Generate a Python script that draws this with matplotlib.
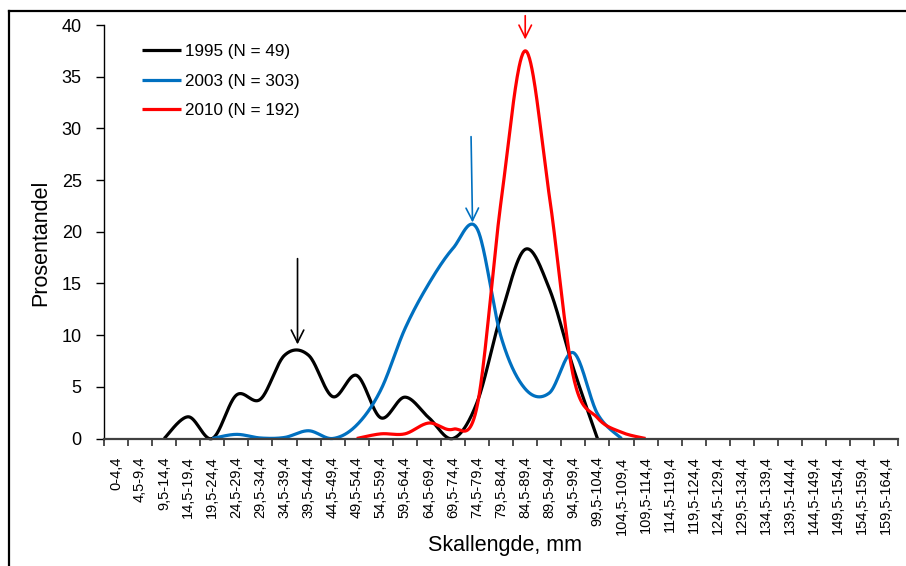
import numpy as np
import matplotlib
matplotlib.use('Agg')
import matplotlib.pyplot as plt
from matplotlib.lines import Line2D

plt.rcParams['font.family'] = ['Liberation Sans', 'DejaVu Sans']

nan = np.nan

categories = ['0-4,4', '4,5-9,4', '9,5-14,4', '14,5-19,4', '19,5-24,4', '24,5-29,4',
              '29,5-34,4', '34,5-39,4', '39,5-44,4', '44,5-49,4', '49,5-54,4', '54,5-59,4',
              '59,5-64,4', '64,5-69,4', '69,5-74,4', '74,5-79,4', '79,5-84,4', '84,5-89,4',
              '89,5-94,4', '94,5-99,4', '99,5-104,4', '104,5-109,4', '109,5-114,4',
              '114,5-119,4', '119,5-124,4', '124,5-129,4', '129,5-134,4', '134,5-139,4',
              '139,5-144,4', '144,5-149,4', '149,5-154,4', '154,5-159,4', '159,5-164,4']

y1995 = [nan, nan, 0, 2.1, 0, 4.2, 3.8, 8.05, 8.05, 4.05, 6.1, 2.0, 4.0, 2.0, 0, 3.5,
         12.0, 18.3, 14.5, 6.8, 0] + [nan] * 12
y2003 = [nan, nan, nan, nan, 0, 0.4, 0.05, 0.1, 0.75, 0.0, 1.3, 4.7, 10.6, 15.0, 18.4,
         20.3, 9.8, 4.8, 4.4, 8.3, 2.4, 0] + [nan] * 11
y2010 = [nan] * 10 + [0, 0.45, 0.45, 1.5, 0.9, 3.1, 23.0, 37.5, 23.5, 6.0, 2.0, 0.6, 0] + [nan] * 10

series_labels = ['1995 (N = 49)', '2003 (N = 303)', '2010 (N = 192)']
series_colors = ['#000000', '#0070C0', '#FF0000']

# arrows: (x start, x end, y start, y end, colour)
arrows = [(7.54, 7.54, 17.4, 9.1, '#000000'),
          (14.75, 14.81, 29.2, 20.9, '#0070C0'),
          (17.0, 17.0, 40.9, 38.6, '#FF0000')]


def smooth(vals, n=40):
    v = np.asarray(vals, dtype=float)
    idx = np.where(~np.isnan(v))[0]
    pts = np.column_stack([idx.astype(float), v[idx]])
    xs, ys = [], []
    m = len(pts)
    t = np.linspace(0, 1, n)
    for k in range(m - 1):
        p0 = pts[k - 1] if k > 0 else pts[k]
        p1 = pts[k]
        p2 = pts[k + 1]
        p3 = pts[k + 2] if k + 2 < m else pts[k + 1]
        c1 = p1 + (p2 - p0) / 6.0
        c2 = p2 - (p3 - p1) / 6.0
        b = ((1 - t) ** 3)[:, None] * p1 + (3 * (1 - t) ** 2 * t)[:, None] * c1 + \
            (3 * (1 - t) * t ** 2)[:, None] * c2 + (t ** 3)[:, None] * p2
        if k > 0:
            b = b[1:]
        xs.append(b[:, 0])
        ys.append(b[:, 1])
    return np.concatenate(xs), np.concatenate(ys)


W, H = 906, 566
fig = plt.figure(figsize=(W / 100, H / 100), dpi=100)
ax = fig.add_axes([104 / W, (H - 438.5) / H, (898.3 - 104) / W, (438.5 - 25) / H])

for vals, lab, col in zip([y1995, y2003, y2010], series_labels, series_colors):
    sx, sy = smooth(vals)
    ax.plot(sx, sy, color=col, lw=2.3, label=lab, solid_capstyle='butt', clip_on=False)

for x0, x1, ya, yb, col in arrows:
    ax.annotate('', xy=(x1, yb), xytext=(x0, ya), annotation_clip=False,
                arrowprops=dict(arrowstyle='->,head_length=0.9,head_width=0.45',
                                color=col, lw=1.2, shrinkA=0, shrinkB=0))

ax.set_xlim(-0.5, len(categories) - 0.5)
ax.set_ylim(0, 40)

ax.set_xticks(np.arange(-0.5, len(categories), 1.0))
ax.set_xticklabels([])
ax.set_xticks(np.arange(len(categories)), minor=True)
ax.set_xticklabels(categories, minor=True, rotation=90, fontsize=10.5, va='top', ha='center')
ax.tick_params(axis='x', which='major', length=5, width=1.3, color='#404040', direction='out')
ax.tick_params(axis='x', which='minor', length=0, pad=13)

ax.set_yticks(np.arange(0, 41, 5))
ax.tick_params(axis='y', length=6, width=1.0, direction='out', pad=10, labelsize=13)

for s in ['top', 'right']:
    ax.spines[s].set_visible(False)
ax.spines['left'].set_color('#000000')
ax.spines['left'].set_linewidth(1.0)
ax.spines['bottom'].set_color('#404040')
ax.spines['bottom'].set_linewidth(1.6)

ax.set_xlabel('Skallengde, mm', fontsize=15.5, va='center')
ax.xaxis.set_label_coords(0.505, -0.2576)
ax.set_ylabel('Prosentandel', fontsize=15.5, va='center')
ax.yaxis.set_label_coords(-0.0793, 0.473)

ax.legend(loc='upper left', bbox_to_anchor=(0.0478, 0.953), frameon=False, fontsize=12.3,
          handlelength=2.3, handletextpad=0.2, labelspacing=0.85, borderaxespad=0, borderpad=0)

# outer chart-area frame (left and top edges visible in the crop)
fig.add_artist(Line2D([8.5 / W, 8.5 / W], [0, (H - 11) / H], color='black', lw=1.6,
                      transform=fig.transFigure))
fig.add_artist(Line2D([8.5 / W, 1], [(H - 11) / H, (H - 11) / H], color='black', lw=1.6,
                      transform=fig.transFigure))

fig.savefig('out.png', dpi=100)
